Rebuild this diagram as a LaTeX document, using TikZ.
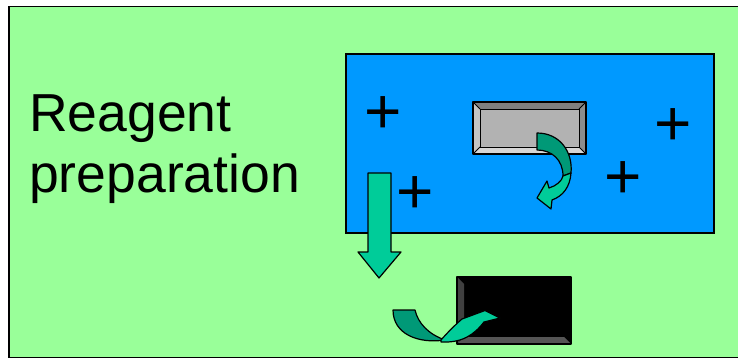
\documentclass[tikz,border=0pt]{standalone}
\usepackage{fontspec}
\setmainfont{Liberation Sans}
\definecolor{bggreen}{HTML}{99FF99}
\definecolor{panelblue}{HTML}{0099FF}
\definecolor{teal}{HTML}{00CC99}
\definecolor{darkteal}{HTML}{009977}
\tikzset{
  frame/.style={draw=black, line width=1.6pt, fill=bggreen},
  panel/.style={draw=black, line width=2pt, fill=panelblue},
  shapeline/.style={draw=black, line width=1.2pt, line join=round},
  thinline/.style={draw=black, line width=0.8pt},
  plussign/.style={font=\fontsize{64}{64}\selectfont, inner sep=0pt, anchor=base},
  label/.style={font=\fontsize{53.5}{61}\selectfont, inner sep=0pt, anchor=base west}
}
\begin{document}
\begin{tikzpicture}[x=1pt,y=-1pt]
\useasboundingbox (0,0) rectangle (738,358);
\clip (0,0) rectangle (738,358);
\fill[white] (0,0) rectangle (738,358);
% background frame
\path[frame] (9,6.5) rectangle (760,357.5);
% label
\node[label] (reagent) at (29,131.7) {Reagent};
\node[label] (prep) at (29,193) {preparation};
% blue panel
\path[panel] (345.5,54.5) rectangle (713.5,232.5);
% plus signs
\node[plussign] (p1) at (383.5,111.5+22.5) {+};
\node[plussign] (p2) at (415,191+22.5) {+};
\node[plussign] (p3) at (673,123+22.5) {+};
\node[plussign] (p4) at (623,175.5+22.5) {+};
% gray bevel box
\fill[fill={rgb,255:red,178;green,178;blue,178}] (480,109) rectangle (579,147);
\fill[fill={rgb,255:red,127;green,127;blue,127}] (473,102) -- (586,102) -- (579,109) -- (480,109) -- cycle;
\fill[fill={rgb,255:red,140;green,140;blue,140}] (586,102) -- (586,154) -- (579,147) -- (579,109) -- cycle;
\fill[fill={rgb,255:red,214;green,214;blue,214}] (473,154) -- (586,154) -- (579,147) -- (480,147) -- cycle;
\fill[fill={rgb,255:red,196;green,196;blue,196}] (473,102) -- (480,109) -- (480,147) -- (473,154) -- cycle;
\draw[thinline] (480,109) rectangle (579,147);
\draw[thinline] (473,102) -- (480,109) (586,102) -- (579,109) (586,154) -- (579,147) (473,154) -- (480,147);
\draw[shapeline, line width=1.6pt] (473,102) rectangle (586,154);
% curved arrow in panel
\path[shapeline, fill=darkteal] (537,133) .. controls (560,133) and (573,152) .. (571,173)
  -- (563,176) .. controls (563,160) and (552,150) .. (537,150) -- cycle;
\path[shapeline, fill=teal] (571,173) .. controls (570,187) and (563,196) .. (552,200)
  -- (551,209) -- (537,198) -- (547,181) -- (549,188)
  .. controls (556,186) and (562,181) .. (563,176) -- cycle;
% down arrow
\path[shapeline, fill=teal] (368,173) -- (391,173) -- (391,252) -- (401,252) -- (379,278)
  -- (358,252) -- (368,252) -- cycle;
% black bevel box
\fill[black] (457,277) rectangle (571,344);
\fill[fill={rgb,255:red,64;green,64;blue,64}] (457,277) -- (464,284) -- (464,337) -- (457,344) -- cycle;
\fill[fill={rgb,255:red,85;green,85;blue,85}] (457,344) -- (571,344) -- (564,337) -- (464,337) -- cycle;
\draw[shapeline, line width=1.6pt] (457,277) rectangle (571,344);
% bottom curved arrow
\path[shapeline, fill=darkteal] (393,310) -- (415,310) .. controls (418,323) and (428,334) .. (445,340)
  .. controls (418,344) and (393,334) .. (393,310) -- cycle;
\path[shapeline, fill=teal] (441,340) .. controls (448,332) and (455,325) .. (462,319)
  -- (485,310.5) -- (500,318) -- (484,322)
  .. controls (474,335) and (462,343) .. (441,342) -- cycle;
\end{tikzpicture}
\end{document}
